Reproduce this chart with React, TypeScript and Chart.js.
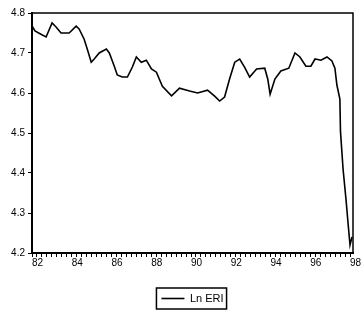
import { useEffect, useRef } from "react";
import { Chart, registerables } from "chart.js";

Chart.register(...registerables);

// observation dates (decimal years) of the plotted vertices
const years = [
  1982.0, 1982.15, 1982.45, 1982.71, 1983.01, 1983.21, 1983.46, 1983.87,
  1984.22, 1984.37, 1984.62, 1984.78, 1984.98, 1985.13, 1985.38, 1985.74,
  1985.89, 1986.14, 1986.29, 1986.54, 1986.8, 1987.05, 1987.25, 1987.5,
  1987.75, 1988.01, 1988.26, 1988.56, 1989.02, 1989.42, 1989.93, 1990.33,
  1990.83, 1991.19, 1991.44, 1991.69, 1991.94, 1992.2, 1992.45, 1992.7,
  1992.95, 1993.3, 1993.71, 1993.86, 1993.98, 1994.22, 1994.52, 1994.92,
  1995.23, 1995.48, 1995.78, 1996.03, 1996.24, 1996.54, 1996.84, 1997.09,
  1997.24, 1997.34, 1997.49, 1997.52, 1997.65, 1997.8, 1997.9, 1998.0,
  1998.1,
];

// Ln ERI values
const lnEri = [
  4.768, 4.755, 4.747, 4.74, 4.775, 4.765, 4.75, 4.75,
  4.767, 4.76, 4.735, 4.71, 4.677, 4.685, 4.7, 4.71,
  4.7, 4.667, 4.645, 4.64, 4.64, 4.665, 4.69, 4.677,
  4.682, 4.66, 4.652, 4.617, 4.593, 4.612, 4.605, 4.6,
  4.607, 4.592, 4.58, 4.59, 4.635, 4.677, 4.685, 4.664,
  4.64, 4.66, 4.662, 4.635, 4.597, 4.635, 4.655, 4.662,
  4.7, 4.69, 4.667, 4.667, 4.685, 4.682, 4.69, 4.68,
  4.662, 4.62, 4.585, 4.504, 4.41, 4.333, 4.275, 4.22,
  4.24,
];

const seriesLabel = "Ln ERI";

// labelled years on the x axis
const yearTicks = [1982, 1984, 1986, 1988, 1990, 1992, 1994, 1996, 1998];
const yearTickLabels = ["82", "84", "86", "88", "90", "92", "94", "96", "98"];

// y ticks
const yTicks = [4.2, 4.3, 4.4, 4.5, 4.6, 4.7, 4.8];
const yTickLabels = ["4.2", "4.3", "4.4", "4.5", "4.6", "4.7", "4.8"];

const X_MIN = 1982;
const X_MAX = 1998.15;

const font = { family: "'Liberation Sans', Arial, sans-serif", size: 10 };
const legendFont = { family: "'Liberation Sans', Arial, sans-serif", size: 11 };

export default function App() {
  const ref = useRef<HTMLCanvasElement | null>(null);

  useEffect(() => {
    if (!ref.current) return;

    const quarterTicks: number[] = [];
    for (let v = X_MIN; v <= X_MAX + 1e-9; v += 0.25) quarterTicks.push(v);

    const framePlugin = {
      id: "frame",
      afterDraw(chart: any) {
        const { ctx, chartArea } = chart;
        ctx.save();
        ctx.strokeStyle = "#000";
        ctx.lineWidth = 1.5;
        ctx.beginPath();
        ctx.moveTo(chartArea.left, chartArea.top);
        ctx.lineTo(chartArea.right, chartArea.top);
        ctx.lineTo(chartArea.right, chartArea.bottom);
        ctx.stroke();
        const hb = chart.legend && chart.legend.legendHitBoxes && chart.legend.legendHitBoxes[0];
        if (hb) {
          ctx.lineWidth = 1.5;
          ctx.strokeRect(hb.left - 5, hb.top - 5, hb.width + 8, hb.height + 10);
        }
        ctx.restore();
      },
    };

    const chart = new Chart(ref.current, {
      type: "line",
      data: {
        datasets: [
          {
            label: seriesLabel,
            data: years.map((x, i) => ({ x, y: lnEri[i] })),
            borderColor: "#000",
            backgroundColor: "#000",
            borderWidth: 1.6,
            pointRadius: 0,
            tension: 0,
            fill: false,
          },
        ],
      },
      options: {
        animation: false,
        responsive: true,
        maintainAspectRatio: false,
        layout: { padding: { left: 0, right: 0, top: 13, bottom: 0 } },
        plugins: {
          legend: {
            display: true,
            position: "bottom",
            fullSize: false,
            labels: {
              usePointStyle: true,
              pointStyle: "line",
              pointStyleWidth: 23,
              padding: 10,
              color: "#000",
              font: legendFont,
            },
          },
          tooltip: { enabled: false },
        },
        scales: {
          x: {
            type: "linear",
            min: X_MIN,
            max: X_MAX,
            afterBuildTicks: (s: any) => {
              s.ticks = quarterTicks.map((v) => ({ value: v }));
            },
            afterFit: (s: any) => {
              s.height = 30;
              s.paddingLeft = 0;
              s.paddingRight = 10;
            },
            grid: {
              drawOnChartArea: false,
              drawTicks: true,
              tickLength: 4,
              color: "#000",
              tickWidth: 1,
            },
            border: { display: true, color: "#000", width: 2 },
            ticks: {
              autoSkip: false,
              maxRotation: 0,
              minRotation: 0,
              align: "start",
              padding: 0,
              color: "#000",
              font,
              callback: (v: any) => {
                const idx = yearTicks.indexOf(Number(v));
                return idx >= 0 ? yearTickLabels[idx] : "";
              },
            },
          },
          y: {
            type: "linear",
            min: 4.2,
            max: 4.8,
            afterBuildTicks: (s: any) => {
              s.ticks = yTicks.map((v) => ({ value: v }));
            },
            afterFit: (s: any) => {
              s.width = 32;
            },
            grid: {
              drawOnChartArea: false,
              drawTicks: true,
              tickLength: 4,
              color: "#000",
            },
            border: { display: true, color: "#000", width: 2 },
            ticks: {
              padding: 3,
              color: "#000",
              font,
              callback: (v: any) => {
                const idx = yTicks.findIndex((t) => Math.abs(t - Number(v)) < 1e-6);
                return idx >= 0 ? yTickLabels[idx] : "";
              },
            },
          },
        },
      },
      plugins: [framePlugin],
    } as any);

    return () => chart.destroy();
  }, []);

  return (
    <div style={{ position: "fixed", left: 0, top: 0, width: 363, height: 314, background: "#fff" }}>
      <canvas ref={ref} />
    </div>
  );
}
